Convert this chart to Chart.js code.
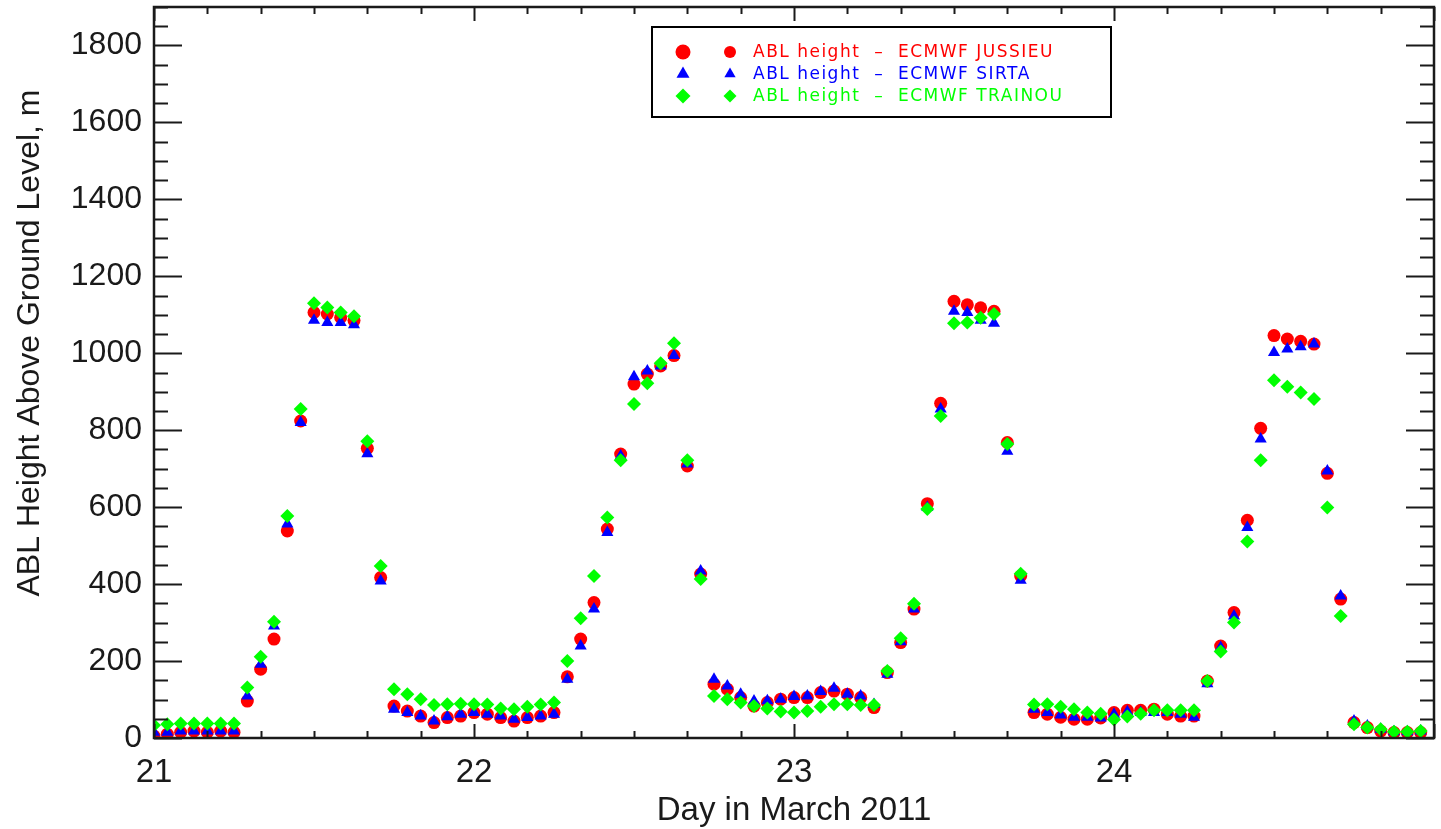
<!DOCTYPE html>
<html>
<head>
<meta charset="utf-8">
<title>ABL height - ECMWF</title>
<script src="https://cdn.jsdelivr.net/npm/chart.js@4.4.1/dist/chart.umd.min.js"></script>
<style>
  html, body { margin: 0; padding: 0; background: #fff; }
  canvas { display: block; }
</style>
</head>
<body>
<canvas id="ablChart" width="1441" height="829"></canvas>
<script>
/** ================================
 *  1. Datos (valores horarios desde el 21 de marzo, 00 h)
 =================================*/
const START_DAY = 21;
const HOURS_PER_DAY = 24;

const ablJussieu = [
    5, 10, 15, 18, 15, 18, 15, 96, 179, 257,
    538, 824, 1106, 1102, 1093, 1085, 753, 417,
    83, 70, 57, 40, 53, 57, 66,
    62, 53, 44, 53, 57, 66,
    159, 257, 352, 543, 738, 920, 946, 967, 994, 707, 426,
    140, 127, 105, 83, 92, 101, 105, 105, 118, 122, 114, 105, 79,
    170, 248, 335, 609, 870, 1135, 1126, 1118, 1109, 768, 421,
    66, 62, 54, 49, 49, 52, 66, 72, 72, 75, 62, 57, 57,
    148, 239, 326, 566, 805, 1046, 1037, 1031, 1024, 688, 361,
    40, 27, 18, 14, 14, 14
];

const ablSirta = [
    15, 15, 18, 18, 18, 18, 18, 109, 192, 291,
    556, 820, 1086, 1080, 1080, 1074, 739, 408,
    75, 66, 57, 44, 55, 62, 66,
    62, 57, 49, 53, 57, 62,
    153, 239, 335, 534, 733, 939, 954, 967, 994, 712, 434,
    153, 135, 114, 96, 97, 101, 108, 109, 121, 129, 114, 109, 87,
    166, 250, 335, 599, 855, 1109, 1106, 1086, 1078, 745, 410,
    75, 66, 60, 54, 54, 52, 62, 68, 66, 66, 66, 62, 54,
    141, 235, 317, 547, 777, 1002, 1011, 1017, 1024, 694, 369,
    44, 31, 23, 16, 16, 18
];

const ablTrainou = [
    33, 36, 38, 38, 38, 38, 38, 131, 211, 302,
    577, 855, 1130, 1119, 1106, 1096, 771, 447,
    127, 114, 101, 86, 88, 89, 88,
    87, 77, 75, 81, 87, 92,
    200, 311, 421, 573, 722, 868, 922, 974, 1026, 722, 413,
    109, 101, 92, 83, 77, 69, 66, 70, 81, 88, 88, 86, 86,
    174, 259, 349, 595, 837, 1078, 1080, 1092, 1102, 764, 427,
    87, 88, 81, 75, 66, 63, 48, 56, 63, 72, 72, 72, 72,
    148, 225, 300, 511, 722, 930, 913, 898, 881, 599, 317,
    36, 27, 23, 16, 16, 18
];

const seriesNames = [
    "ABL height  \u2013  ECMWF JUSSIEU",
    "ABL height  \u2013  ECMWF SIRTA",
    "ABL height  \u2013  ECMWF TRAINOU"
];
const seriesColors = ["#ff0000", "#0000ff", "#00ff00"];
const seriesStyles = ["circle", "triangle", "rectRot"];

const xTickValues = [21, 22, 23, 24];
const yTickValues = [0, 200, 400, 600, 800, 1000, 1200, 1400, 1600, 1800];

const xTitle = "Day in March 2011";
const yTitle = "ABL Height Above Ground Level, m";

const FONT = "'Liberation Sans', Arial, Helvetica, sans-serif";
const INK = "#1a1a1a";

/** ================================
 *  2. Helpers
 =================================*/
function toPoints(arr) {
    return arr.map((v, i) => ({ x: START_DAY + i / HOURS_PER_DAY, y: v }));
}

function drawMarker(ctx, style, x, y, r) {
    ctx.beginPath();
    if (style === "circle") {
        ctx.arc(x, y, r, 0, Math.PI * 2);
    } else if (style === "triangle") {
        ctx.moveTo(x, y - r);
        ctx.lineTo(x + r * 0.866, y + r * 0.5);
        ctx.lineTo(x - r * 0.866, y + r * 0.5);
        ctx.closePath();
    } else {
        ctx.moveTo(x - r, y);
        ctx.lineTo(x, y - r);
        ctx.lineTo(x + r, y);
        ctx.lineTo(x, y + r);
        ctx.closePath();
    }
    ctx.fill();
}

/** ================================
 *  3. Plugin: marco, ticks interiores, titulos y leyenda
 =================================*/
const idlFrame = {
    id: "idlFrame",
    beforeDraw(chart) {
        const ctx = chart.ctx;
        ctx.save();
        ctx.fillStyle = "#fff";
        ctx.fillRect(0, 0, chart.width, chart.height);
        ctx.restore();
    },
    afterDatasetsDraw(chart) {
        const { ctx, chartArea: a, scales: { x, y } } = chart;
        ctx.save();
        ctx.strokeStyle = INK;
        ctx.lineWidth = 2;

        // ticks eje Y (izq y der), mayor cada 200, menor cada 50
        for (let v = 0; v <= y.max; v += 50) {
            const py = Math.round(y.getPixelForValue(v)) + 0.5;
            const len = v % 200 === 0 ? 28 : 14;
            ctx.beginPath();
            ctx.moveTo(a.left, py); ctx.lineTo(a.left + len, py);
            ctx.moveTo(a.right, py); ctx.lineTo(a.right - len, py);
            ctx.stroke();
        }
        // ticks eje X (abajo y arriba), mayor cada dia, menor cada 4 h
        for (let k = 0; k <= (x.max - x.min) * 6; k++) {
            const px = Math.round(x.getPixelForValue(x.min + k / 6)) + 0.5;
            const len = k % 6 === 0 ? 14 : 7;
            ctx.beginPath();
            ctx.moveTo(px, a.bottom); ctx.lineTo(px, a.bottom - len);
            ctx.moveTo(px, a.top); ctx.lineTo(px, a.top + len);
            ctx.stroke();
        }
        // marco
        ctx.lineWidth = 2.5;
        ctx.strokeRect(a.left, a.top, a.right - a.left, a.bottom - a.top);

        // titulos
        ctx.fillStyle = INK;
        ctx.font = `33px ${FONT}`;
        ctx.textAlign = "center";
        ctx.textBaseline = "alphabetic";
        ctx.fillText(xTitle, (a.left + a.right) / 2, 820);

        ctx.save();
        ctx.translate(39, 343);
        ctx.rotate(-Math.PI / 2);
        ctx.font = `32px ${FONT}`;
        ctx.fillText(yTitle, 0, 0);
        ctx.restore();

        // leyenda
        const box = { l: 652, t: 27, r: 1111, b: 117 };
        ctx.fillStyle = "#fff";
        ctx.fillRect(box.l, box.t, box.r - box.l, box.b - box.t);
        ctx.lineWidth = 2;
        ctx.strokeStyle = "#000";
        ctx.strokeRect(box.l, box.t, box.r - box.l, box.b - box.t);

        const rows = [52, 74, 96];
        const bigR = [7.5, 7.5, 7.5];
        const smallR = [6, 6.5, 6.5];
        ctx.font = `17px 'DejaVu Sans', ${FONT}`;
        ctx.textAlign = "left";
        ctx.textBaseline = "middle";
        if ("letterSpacing" in ctx) ctx.letterSpacing = "1.5px";
        seriesNames.forEach((name, i) => {
            ctx.fillStyle = seriesColors[i];
            drawMarker(ctx, seriesStyles[i], 683, rows[i], bigR[i]);
            drawMarker(ctx, seriesStyles[i], 730, rows[i], smallR[i]);
            ctx.fillText(name, 753, rows[i] + 1);
        });
        ctx.restore();
    }
};

/** ================================
 *  4. Grafico
 =================================*/
const ctx = document.getElementById("ablChart");

const datasets = [ablJussieu, ablSirta, ablTrainou].map((arr, i) => ({
    label: seriesNames[i],
    data: toPoints(arr),
    showLine: false,
    pointStyle: seriesStyles[i],
    pointRadius: i === 0 ? 6.5 : 7,
    pointBackgroundColor: seriesColors[i],
    pointBorderColor: seriesColors[i],
    pointBorderWidth: 0,
    clip: 0,
    order: 3 - i
}));

new Chart(ctx, {
    type: "scatter",
    data: { datasets },
    options: {
        responsive: false,
        animation: false,
        devicePixelRatio: 1,
        events: [],
        layout: { padding: { top: 6, right: 2, left: 0, bottom: 0 } },
        plugins: {
            legend: { display: false },
            tooltip: { enabled: false },
            title: { display: false }
        },
        scales: {
            x: {
                type: "linear",
                min: 21,
                max: 25,
                grid: { display: false, drawTicks: false },
                border: { display: false },
                afterBuildTicks: s => { s.ticks = xTickValues.map(v => ({ value: v })); },
                afterFit: s => {
                    s.height = 91;
                    s.paddingLeft = 0;
                    s.paddingRight = 0;
                },
                ticks: {
                    autoSkip: false,
                    maxRotation: 0,
                    padding: 15,
                    color: INK,
                    font: { family: FONT, size: 33 },
                    callback: v => String(v)
                }
            },
            y: {
                type: "linear",
                min: 0,
                max: 1900,
                grid: { display: false, drawTicks: false },
                border: { display: false },
                afterBuildTicks: s => { s.ticks = yTickValues.map(v => ({ value: v })); },
                afterFit: s => {
                    s.width = 154;
                    s.paddingTop = 0;
                    s.paddingBottom = 0;
                },
                ticks: {
                    padding: 12,
                    color: INK,
                    font: { family: FONT, size: 32 },
                    callback: v => String(v)
                }
            }
        }
    },
    plugins: [idlFrame]
});
</script>
</body>
</html>
